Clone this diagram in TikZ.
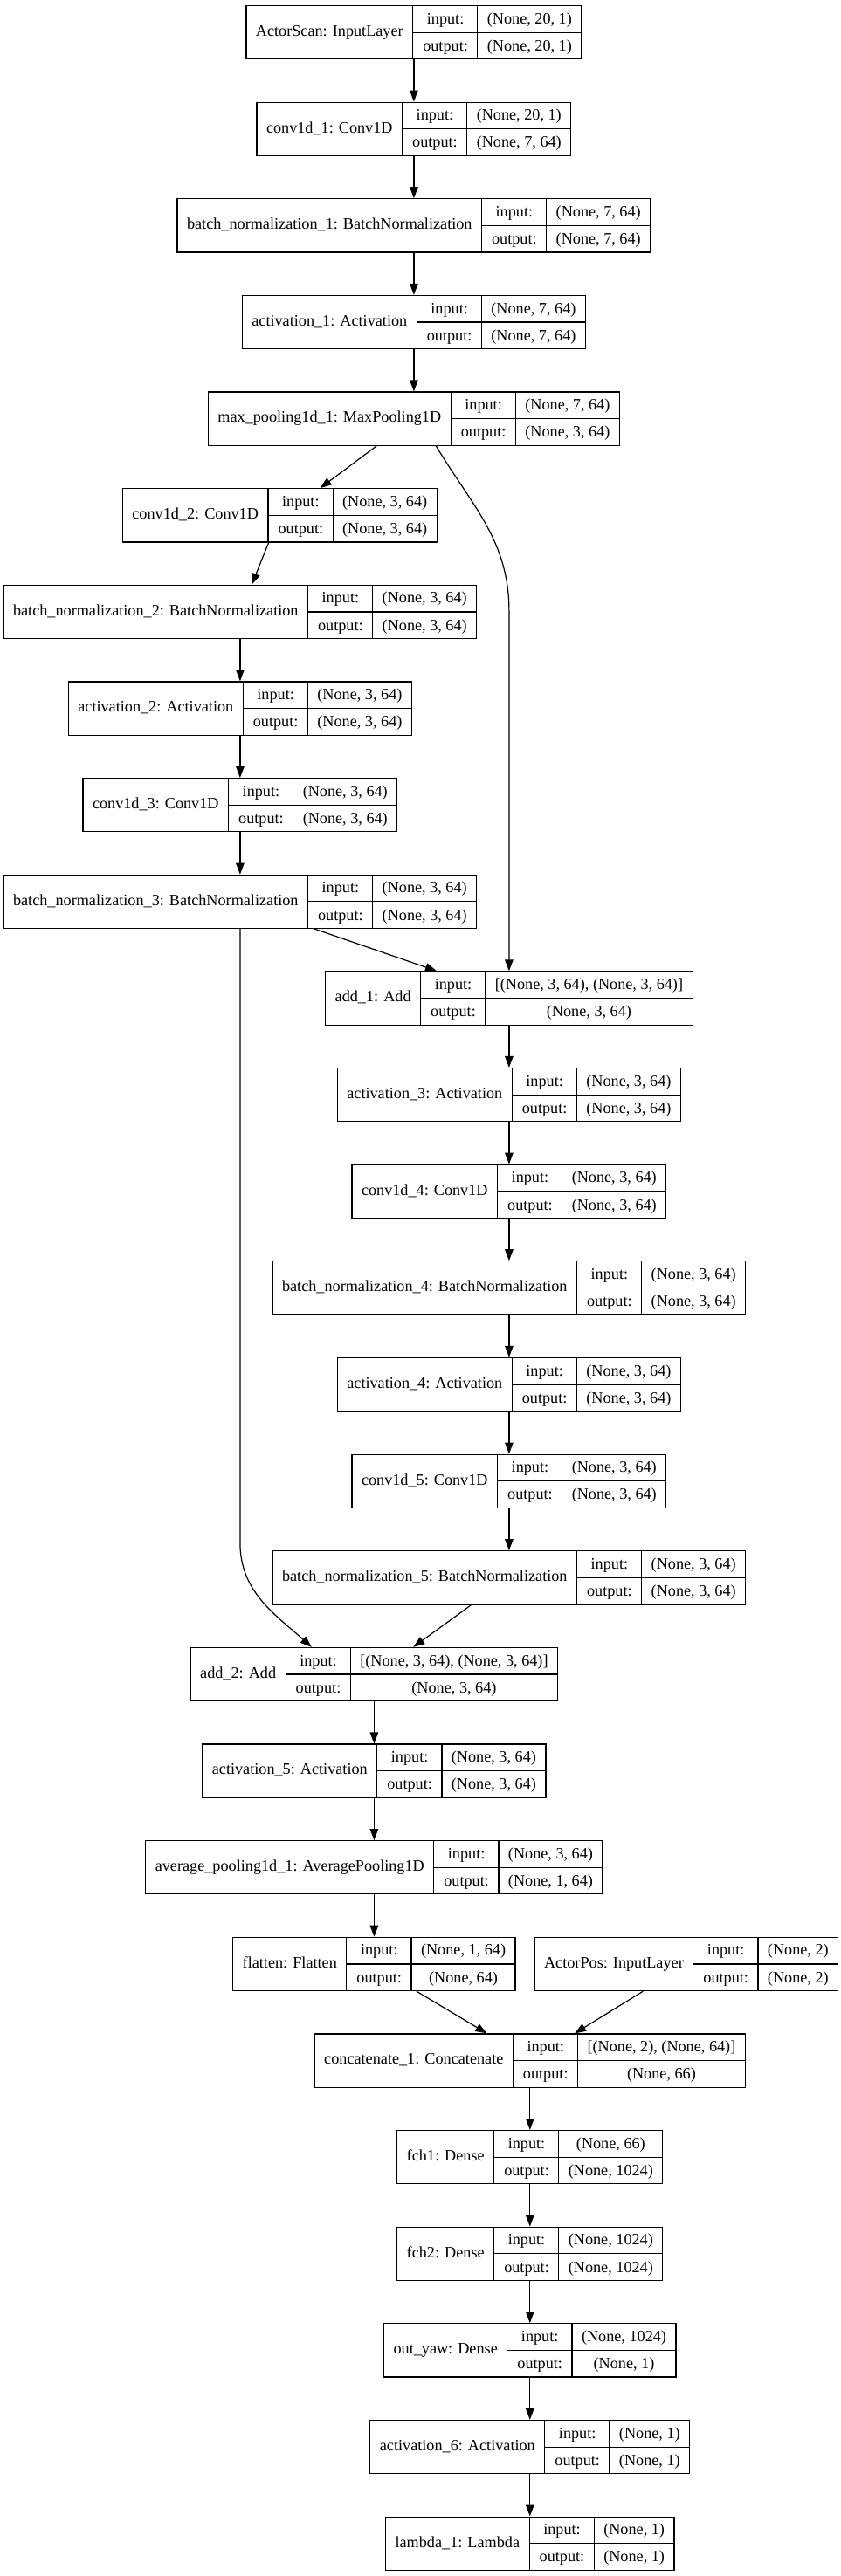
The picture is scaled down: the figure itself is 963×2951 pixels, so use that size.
\documentclass[tikz,border=0pt]{standalone}
\usepackage{fontspec}
\setmainfont{Liberation Serif}
\usetikzlibrary{arrows.meta,positioning}

\setlength{\tabcolsep}{11pt}
\setlength{\arrayrulewidth}{1.2pt}
\newcommand{\cellstrut}{\rule[-9.4pt]{0pt}{30pt}}
\newcommand{\layerrec}[3]{%
  \begin{tabular}{c|@{}c@{}}
    #1 &
    \begin{tabular}{c|c}
      \cellstrut input: & #2\\ \hline
      \cellstrut output: & #3
    \end{tabular}
  \end{tabular}}

\begin{document}
\begin{tikzpicture}[
    x=1pt, y=1pt,
    node distance=110.64pt,
    layer/.style={rectangle,draw,line width=1.2pt,inner sep=0pt,font=\fontsize{18.2}{22}\selectfont},
    edge/.style={line width=1.2pt,-{Triangle[length=13pt,width=9.5pt]}}
]
\useasboundingbox (0,0) rectangle (963,-2951);

% Scan input
\node[layer] (scan) at (473.9,-37.1) {\layerrec{ActorScan: InputLayer}{(None, 20, 1)}{(None, 20, 1)}};
\node[layer, below of=scan] (conv1) {\layerrec{conv1d\_1: Conv1D}{(None, 20, 1)}{(None, 7, 64)}};
\node[layer, below of=conv1] (bn1) {\layerrec{batch\_normalization\_1: BatchNormalization}{(None, 7, 64)}{(None, 7, 64)}};
\node[layer, below of=bn1] (act1) {\layerrec{activation\_1: Activation}{(None, 7, 64)}{(None, 7, 64)}};
\node[layer, below of=act1] (pool) {\layerrec{max\_pooling1d\_1: MaxPooling1D}{(None, 7, 64)}{(None, 3, 64)}};

% First residual block
\node[layer, below of=pool, xshift=-153.6pt] (conv2) {\layerrec{conv1d\_2: Conv1D}{(None, 3, 64)}{(None, 3, 64)}};
\node[layer, below of=conv2, xshift=-45.4pt] (bn2) {\layerrec{batch\_normalization\_2: BatchNormalization}{(None, 3, 64)}{(None, 3, 64)}};
\node[layer, below of=bn2] (act2) {\layerrec{activation\_2: Activation}{(None, 3, 64)}{(None, 3, 64)}};
\node[layer, below of=act2] (conv3) {\layerrec{conv1d\_3: Conv1D}{(None, 3, 64)}{(None, 3, 64)}};
\node[layer, below of=conv3] (bn3) {\layerrec{batch\_normalization\_3: BatchNormalization}{(None, 3, 64)}{(None, 3, 64)}};
\node[layer, below of=bn3, xshift=308pt] (add1) {\layerrec{add\_1: Add}{[(None, 3, 64), (None, 3, 64)]}{(None, 3, 64)}};

% Second residual block
\node[layer, below of=add1] (act3) {\layerrec{activation\_3: Activation}{(None, 3, 64)}{(None, 3, 64)}};
\node[layer, below of=act3] (conv4) {\layerrec{conv1d\_4: Conv1D}{(None, 3, 64)}{(None, 3, 64)}};
\node[layer, below of=conv4] (bn4) {\layerrec{batch\_normalization\_4: BatchNormalization}{(None, 3, 64)}{(None, 3, 64)}};
\node[layer, below of=bn4] (act4) {\layerrec{activation\_4: Activation}{(None, 3, 64)}{(None, 3, 64)}};
\node[layer, below of=act4] (conv5) {\layerrec{conv1d\_5: Conv1D}{(None, 3, 64)}{(None, 3, 64)}};
\node[layer, below of=conv5] (bn5) {\layerrec{batch\_normalization\_5: BatchNormalization}{(None, 3, 64)}{(None, 3, 64)}};
\node[layer, below of=bn5, xshift=-154.5pt] (add2) {\layerrec{add\_2: Add}{[(None, 3, 64), (None, 3, 64)]}{(None, 3, 64)}};

% Head
\node[layer, below of=add2] (act5) {\layerrec{activation\_5: Activation}{(None, 3, 64)}{(None, 3, 64)}};
\node[layer, below of=act5] (avgpool) {\layerrec{average\_pooling1d\_1: AveragePooling1D}{(None, 3, 64)}{(None, 1, 64)}};
\node[layer, below of=avgpool] (flat) {\layerrec{flatten: Flatten}{(None, 1, 64)}{(None, 64)}};
\node[layer, below of=avgpool, xshift=357.5pt] (pos) {\layerrec{ActorPos: InputLayer}{(None, 2)}{(None, 2)}};
\node[layer, below of=flat, xshift=178.4pt] (concat) {\layerrec{concatenate\_1: Concatenate}{[(None, 2), (None, 64)]}{(None, 66)}};
\node[layer, below of=concat] (fch1) {\layerrec{fch1: Dense}{(None, 66)}{(None, 1024)}};
\node[layer, below of=fch1] (fch2) {\layerrec{fch2: Dense}{(None, 1024)}{(None, 1024)}};
\node[layer, below of=fch2] (yaw) {\layerrec{out\_yaw: Dense}{(None, 1024)}{(None, 1)}};
\node[layer, below of=yaw] (act6) {\layerrec{activation\_6: Activation}{(None, 1)}{(None, 1)}};
\node[layer, below of=act6] (lambda) {\layerrec{lambda\_1: Lambda}{(None, 1)}{(None, 1)}};

% Arrows
\draw[edge] (scan) -- (conv1);
\draw[edge] (conv1) -- (bn1);
\draw[edge] (bn1) -- (act1);
\draw[edge] (act1) -- (pool);
\draw[edge] ([xshift=-42.7pt]pool.south) -- ([xshift=46.4pt]conv2.north);
\draw[edge] ([xshift=-12.6pt]conv2.south) -- ([xshift=13.3pt]bn2.north);
\draw[edge] (bn2) -- (act2);
\draw[edge] (act2) -- (conv3);
\draw[edge] (conv3) -- (bn3);
\draw[edge] ([xshift=85.1pt]bn3.south) -- ([xshift=-82.9pt]add1.north);
\draw[edge] (add1) -- (act3);
\draw[edge] (act3) -- (conv4);
\draw[edge] (conv4) -- (bn4);
\draw[edge] (bn4) -- (act4);
\draw[edge] (act4) -- (conv5);
\draw[edge] (conv5) -- (bn5);
\draw[edge] ([xshift=-43.3pt]bn5.south) -- ([xshift=44.9pt]add2.north);
\draw[edge] (add2) -- (act5);
\draw[edge] (act5) -- (avgpool);
\draw[edge] (avgpool) -- (flat);
\draw[edge] ([xshift=48.5pt]flat.south) -- ([xshift=-49.4pt]concat.north);
\draw[edge] ([xshift=-49.5pt]pos.south) -- ([xshift=51.3pt]concat.north);
\draw[edge] (concat) -- (fch1);
\draw[edge] (fch1) -- (fch2);
\draw[edge] (fch2) -- (yaw);
\draw[edge] (yaw) -- (act6);
\draw[edge] (act6) -- (lambda);

% Skip connections
\draw[edge] ([xshift=25.4pt]pool.south) to[out=-59,in=90] (add1.north |- 0,-700) -- (add1.north);
\draw[edge] (bn3.south) -- (bn3.south |- 0,-1767) to[out=-90,in=138] ([xshift=-71.7pt]add2.north);

\end{tikzpicture}
\end{document}
